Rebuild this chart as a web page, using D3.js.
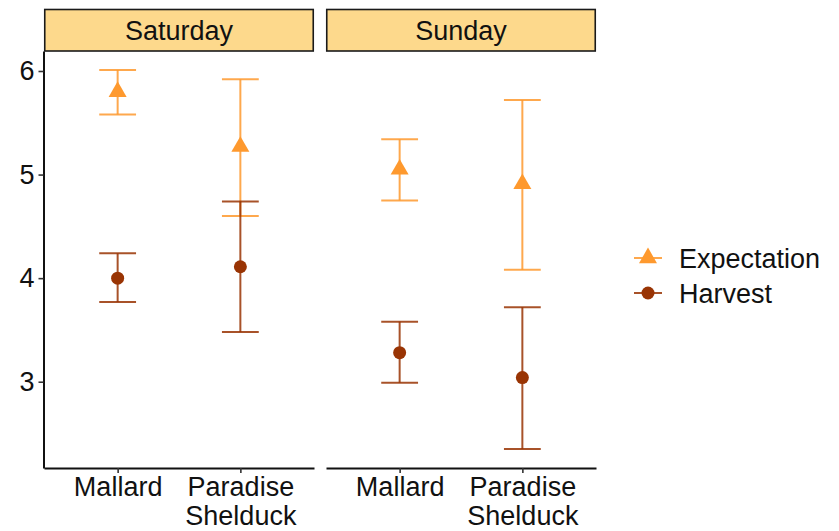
<!DOCTYPE html>
<html>
<head>
<meta charset="utf-8">
<script src="https://cdn.jsdelivr.net/npm/d3@7"></script>
<style>
  body { margin: 0; background: #fff; }
  svg text { font-family: "Liberation Sans", Arial, sans-serif; fill: #111; }
</style>
</head>
<body>
<div id="canvas"></div>
<script>
// DATA (order: Mallard, Paradise Shelduck in each day)
const days = ["Saturday", "Sunday"];
const species = ["Mallard", "Paradise Shelduck"];
const groups = ["Expectation", "Harvest"];

const expMean  = [[5.80, 5.27], [5.05, 4.91]];
const expLower = [[5.58, 4.60], [4.75, 4.08]];
const expUpper = [[6.01, 5.92], [5.34, 5.72]];

const harvMean  = [[4.00, 4.11], [3.28, 3.04]];
const harvLower = [[3.77, 3.48], [2.99, 2.35]];
const harvUpper = [[4.24, 4.74], [3.58, 3.72]];

// DIMENSIONS
const width = 839;
const height = 531;
const panel = { left: [44, 326], width: 270, top: 51, bottom: 468 };
const strip = { top: 9.5, height: 41.5 };
const fontSize = "27px";

const colors = { Expectation: "#fe992e", Harvest: "#993404" };

// build rows from the arrays
const rows = [];
days.forEach((day, di) => {
  species.forEach((sp, si) => {
    rows.push({ day, species: sp, group: "Expectation",
      mean: expMean[di][si], lo: expLower[di][si], hi: expUpper[di][si] });
    rows.push({ day, species: sp, group: "Harvest",
      mean: harvMean[di][si], lo: harvLower[di][si], hi: harvUpper[di][si] });
  });
});

// CANVAS
const svg = d3.select("#canvas")
  .append("svg")
  .attr("width", width)
  .attr("height", height);

// SCALES
const yMin = d3.min(rows, d => d.lo);
const yMax = d3.max(rows, d => d.hi);
const pad = (yMax - yMin) * 0.05;
const y = d3.scaleLinear()
  .domain([yMin - pad, yMax + pad])
  .range([panel.bottom, panel.top]);

const x = d3.scalePoint()
  .domain(species)
  .range([0, panel.width])
  .padding(0.6);

const capHalf = x.step() * 0.15;
const triangle = d3.symbol().type(d3.symbolTriangle).size(140);

days.forEach((day, di) => {
  const g = svg.append("g")
    .attr("transform", `translate(${panel.left[di]},0)`);

  // STRIP
  g.append("rect")
    .attr("x", 0.75)
    .attr("y", strip.top)
    .attr("width", panel.width - 1.5)
    .attr("height", strip.height)
    .attr("fill", "#fdd98c")
    .attr("stroke", "#1a1a1a")
    .attr("stroke-width", 1.6);

  g.append("text")
    .attr("x", panel.width / 2)
    .attr("y", strip.top + strip.height / 2)
    .attr("dy", "0.36em")
    .attr("text-anchor", "middle")
    .style("font-size", fontSize)
    .text(day);

  // X AXIS
  const xAx = g.append("g")
    .attr("transform", `translate(0,${panel.bottom})`)
    .call(d3.axisBottom(x).tickSize(5).tickSizeOuter(0).tickPadding(4));
  xAx.select(".domain").attr("stroke", "#111").attr("stroke-width", 2);
  xAx.selectAll(".tick line").attr("stroke", "#333").attr("stroke-width", 1.6);
  xAx.selectAll(".tick text")
    .style("font-size", fontSize)
    .attr("fill", "#111")
    .each(function (d) {
      const t = d3.select(this).text("");
      d.split(" ").forEach((w, i) => {
        t.append("tspan")
          .attr("x", 0)
          .attr("dy", i === 0 ? "0.71em" : "1.08em")
          .text(w);
      });
    });

  // Y AXIS (left panel only)
  if (di === 0) {
    const yAx = g.append("g")
      .attr("transform", "translate(-0.5,0)")
      .call(d3.axisLeft(y).tickValues([3, 4, 5, 6]).tickFormat(d3.format("d"))
        .tickSize(5).tickSizeOuter(0).tickPadding(4));
    yAx.select(".domain").attr("stroke", "#111").attr("stroke-width", 2);
    yAx.selectAll(".tick line").attr("stroke", "#333").attr("stroke-width", 1.6);
    yAx.selectAll(".tick text").style("font-size", fontSize).attr("fill", "#111");
  }

  // ERROR BARS + POINTS
  groups.forEach(grp => {
    const data = rows.filter(d => d.day === day && d.group === grp);
    const eb = g.append("g")
      .attr("stroke", colors[grp])
      .attr("stroke-width", 2)
      .attr("stroke-opacity", 0.85)
      .attr("fill", "none");

    eb.selectAll("line.v").data(data).join("line")
      .attr("x1", d => x(d.species)).attr("x2", d => x(d.species))
      .attr("y1", d => y(d.lo)).attr("y2", d => y(d.hi));
    eb.selectAll("line.hi").data(data).join("line")
      .attr("x1", d => x(d.species) - capHalf).attr("x2", d => x(d.species) + capHalf)
      .attr("y1", d => y(d.hi)).attr("y2", d => y(d.hi));
    eb.selectAll("line.lo").data(data).join("line")
      .attr("x1", d => x(d.species) - capHalf).attr("x2", d => x(d.species) + capHalf)
      .attr("y1", d => y(d.lo)).attr("y2", d => y(d.lo));

    if (grp === "Expectation") {
      g.append("g").selectAll("path").data(data).join("path")
        .attr("d", triangle)
        .attr("transform", d => `translate(${x(d.species)},${y(d.mean)})`)
        .attr("fill", colors[grp]);
    } else {
      g.append("g").selectAll("circle").data(data).join("circle")
        .attr("cx", d => x(d.species))
        .attr("cy", d => y(d.mean))
        .attr("r", 6.5)
        .attr("fill", colors[grp]);
    }
  });
});

// LEGEND
const legend = svg.append("g").attr("transform", "translate(634,258)");
groups.forEach((grp, i) => {
  const item = legend.append("g").attr("transform", `translate(0,${i * 35})`);
  item.append("line")
    .attr("x1", 0).attr("x2", 28)
    .attr("stroke", colors[grp]).attr("stroke-width", 2).attr("stroke-opacity", 0.85);
  if (grp === "Expectation") {
    item.append("path").attr("d", triangle).attr("transform", "translate(14,0)")
      .attr("fill", colors[grp]);
  } else {
    item.append("circle").attr("cx", 14).attr("r", 6.5).attr("fill", colors[grp]);
  }
  item.append("text")
    .attr("x", 45)
    .attr("dy", "0.36em")
    .style("font-size", fontSize)
    .text(grp);
});
</script>
</body>
</html>
